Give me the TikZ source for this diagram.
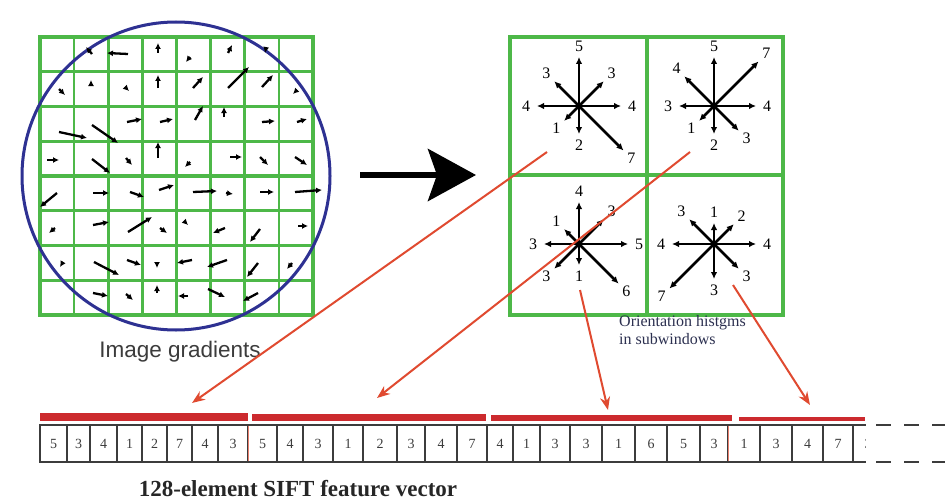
\documentclass[tikz,border=0pt]{standalone}
\usepackage{fontspec}
\setmainfont{Liberation Serif}
\setsansfont{Liberation Sans}
\usetikzlibrary{calc,arrows.meta}
\definecolor{gridgreen}{HTML}{4DB848}
\definecolor{circblue}{HTML}{2E3192}
\definecolor{redink}{HTML}{E04A30}
\definecolor{barred}{HTML}{CC2A2E}
\definecolor{numgray}{HTML}{3C3C3C}
\definecolor{navy}{HTML}{2C3050}

\begin{document}
\begin{tikzpicture}[x=1pt,y=-1pt,
  grad/.style={line width=2.3pt,-{Latex[length=6pt,width=6pt]}},
  histo/.style={line width=2.5pt,-{Latex[length=7pt,width=6.5pt]}},
  hnum/.style={font=\fontsize{16}{16}\selectfont,inner sep=0pt},
  vnum/.style={font=\fontsize{14}{14}\selectfont,text=numgray,inner sep=0pt},
  cell/.style={draw=numgray,line width=1.3pt},
  feed/.style={redink,line width=2pt,-{Stealth[length=13pt,width=10pt]}}]
\useasboundingbox (0,0) rectangle (945,503);
\fill[white] (0,0) rectangle (945,503);

% image gradients: 8x8 grid
\foreach \i in {1,2,3,5,6,7} {
  \draw[gridgreen,line width=2.7pt] (40+34.125*\i,37) -- ++(0,278);
  \draw[gridgreen,line width=2.7pt] (40,37+34.75*\i) -- ++(273,0);
}
\draw[gridgreen,line width=3.7pt] (40,37) rectangle (313,315);
\draw[gridgreen,line width=3.7pt] (176.5,37) -- (176.5,315) (40,176) -- (313,176);
\draw[circblue,line width=3pt] (176,176) circle (154);
\foreach \ax/\ay/\bx/\by in {
  92/54/86/47, 128/54/107/53, 158/53/158/43, 190/57/186/62, 228/53/232/45, 266/48/265/53,
  59/89/65/95, 91/85/91/80, 127/89/129/91, 158/88/158/75, 193/88/203/77, 228/88/249/67, 262/87/273/75, 297/90/293/94,
  59/132/87/138, 92/125/118/143, 127/122/142/119, 160/122/173/119, 195/120/203/106, 224/117/224/107, 262/122/275/121, 297/122/307/119,
  47/160/59/160, 92/159/110/173, 126/158/132/165, 158/158/158/142, 190/162/185/167, 230/157/242/157, 260/157/268/165, 295/157/307/165,
  57/193/40/207, 93/193/109/193, 130/192/144/197, 159/190/174/185, 193/192/217/191, 226/193/233/194, 260/192/274/192, 295/192/322/190,
  55/228/49/233, 93/225/109/222, 128/232/152/217, 160/228/167/233, 186/223/188/225, 225/228/213/233, 260/229/250/242, 298/226/308/226,
  63/262/60/267, 94/262/119/275, 127/260/141/265, 157/262/157/268, 192/260/177/263, 227/260/207/267, 258/263/247/277, 292/263/287/269,
  93/293/108/296, 126/294/133/300, 157/293/157/285, 188/296/178/296, 208/289/225/297, 258/293/243/301} {
  \draw[grad] (\ax,\ay) -- (\bx,\by);
}
\node[font=\sffamily\fontsize{22.5}{22.5}\selectfont,text=numgray] (gradlabel) at (180,352) {Image gradients};

% big arrow
\coordinate (from) at (360,175);
\coordinate (to) at (476,175);
\draw[line width=6pt,-{Stealth[length=48pt,width=52pt,inset=9pt]}] (from) -- (to);

% orientation histograms
\draw[gridgreen,line width=4pt] (510,37) rectangle (783,315);
\draw[gridgreen,line width=4pt] (647,37) -- (647,315) (510,175) -- (783,175);
\foreach \cx/\cy/\vals [count=\q] in {579/106/{5,3,4,1,2,7,4,3},714/106/{5,4,3,1,2,3,4,7},579/244/{4,1,3,3,1,6,5,3},714/244/{1,3,4,7,3,3,4,2}} {
  \coordinate (h\q) at (\cx,\cy);
  \foreach \v [count=\k] in \vals {
    \pgfmathsetmacro\ang{45+45*\k}
    \pgfmathsetmacro\len{14+7*\v}
    \pgfmathsetmacro\lpos{\len+11}
    \draw[histo] (h\q) -- ($(h\q)+(\ang:\len pt)$);
    \node[hnum] (n\q-\k) at ($(h\q)+(\ang:\lpos pt)$) {\v};
  }
}
\node[font=\fontsize{16}{18}\selectfont,text=navy,align=left,anchor=north west,inner sep=0pt] (histlabel) at (619,315) {Orientation histgms\\in subwindows};

% feature vector
\fill[barred] (40,412.5) rectangle (248,420.5);
\fill[barred] (252,414) rectangle (486,420.5);
\fill[barred] (491,415) rectangle (732,420.5);
\fill[barred] (739,416.5) rectangle (865,420.5);
\foreach \xa/\xb/\v [count=\n] in {40/67/5,67/90/3,90/117/4,117/142/1,142/167/2,167/192/7,192/218/4,218/248/3,
  248/277/5,277/303/4,303/333/3,333/363/1,363/397/2,397/425/3,425/457/4,457/487/7,
  487/513/4,513/540/1,540/570/3,570/602/3,602/635/1,635/667/6,667/700/5,700/728/3,
  728/760/1,760/792/3,792/823/4,823/853/7} {
  \draw[cell] (\xa,425) rectangle (\xb,462);
  \node[vnum] (v\n) at ({(\xa+\xb)/2},443.5) {\v};
}
\draw[cell] (853,425) -- (866,425) (853,462) -- (866,462);
\begin{scope}
  \clip (853,420) rectangle (865,470);
  \node[vnum] (vlast) at (868,443.5) {3};
\end{scope}
\draw[redink!70,line width=1pt] (248,426) -- (248,461) (728,426) -- (728,461);
\draw[numgray,line width=1.5pt,dash pattern=on 15pt off 13pt] (876,425) -- (945,425) (876,462) -- (945,462);
\node[font=\bfseries\fontsize{23}{23}\selectfont,text=black!85] (veclabel) at (298,489) {128-element SIFT feature vector};

% red connectors
\coordinate (s1) at (547,152); \coordinate (t1) at (192,403);
\coordinate (s2) at (690,152); \coordinate (t2) at (377,398);
\coordinate (s3) at (580,290); \coordinate (t3) at (608,410);
\coordinate (s4) at (733,285); \coordinate (t4) at (810,405);
\foreach \k in {1,...,4} \draw[feed] (s\k) -- (t\k);
\end{tikzpicture}
\end{document}
